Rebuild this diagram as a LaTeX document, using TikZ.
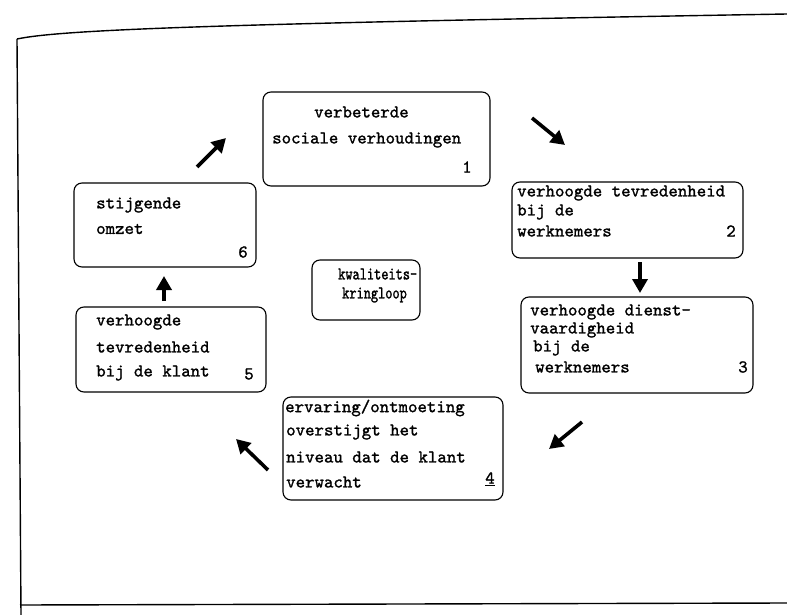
\documentclass[tikz,border=0pt]{standalone}
\usetikzlibrary{arrows.meta}
\font\twfont="[lmmono10-regular]:embolden=1.3" at 18pt
\font\twcfont="[lmmono10-regular]:embolden=1.3;extend=0.76" at 18pt
\begin{document}
\begin{tikzpicture}[x=1pt,y=-1pt,
  box/.style={draw, rounded corners=8pt, line width=1.1pt, inner sep=0pt},
  txt/.style={anchor=west, inner sep=0pt, font=\twfont},
  ctxt/.style={anchor=west, inner sep=0pt, font=\twcfont},
  num/.style={anchor=center, inner sep=0pt, font=\twfont},
  flow/.style={line width=3.6pt, -{Triangle[length=14pt,width=15pt]}},
  frameline/.style={line width=1.4pt}]
\useasboundingbox (0,0) rectangle (787,615);
% frame
\coordinate (ftl) at (17,39);
\coordinate (ftr) at (787,14);
\coordinate (fbl) at (21,615);
\coordinate (fbs) at (20,605);
\coordinate (fbr) at (787,603);
\draw[frameline] (ftl) .. controls (60,30) and (200,24) .. (ftr);
\draw[frameline] (ftl) -- (fbl);
\draw[frameline] (fbs) -- (fbr);

% boxes
\node[box, minimum width=227pt, minimum height=94pt] (b1) at (376.5,139) {};
\node[box, minimum width=231pt, minimum height=76pt] (b2) at (627.5,220) {};
\node[box, minimum width=232pt, minimum height=96pt] (b3) at (637,345) {};
\node[box, minimum width=220pt, minimum height=103pt] (b4) at (393,448.5) {};
\node[box, minimum width=190pt, minimum height=85pt] (b5) at (171,349.5) {};
\node[box, minimum width=182pt, minimum height=84pt] (b6) at (165,225) {};
\node[box, minimum width=108pt, minimum height=60pt] (bc) at (366,290) {};

% texts box 1
\node[txt] (t1a) at (314,112) {verbeterde};
\node[txt] (t1b) at (272,140) {sociale verhoudingen};
\node[num] (n1) at (467,167) {1};
% box 2
\node[txt] (t2a) at (517,193) {verhoogde tevredenheid};
\node[txt] (t2b) at (517,212) {bij de};
\node[txt] (t2c) at (517,231) {werknemers};
\node[num] (n2) at (731,231) {2};
% box 3
\node[txt] (t3a) at (530,312) {verhoogde dienst-};
\node[txt] (t3b) at (530,330) {vaardigheid};
\node[txt] (t3c) at (533,348) {bij de};
\node[txt] (t3d) at (535,367) {werknemers};
\node[num] (n3) at (743,367) {3};
% box 4
\node[txt] (t4a) at (285,408) {ervaring/ontmoeting};
\node[txt] (t4b) at (286,432) {overstijgt het};
\node[txt] (t4c) at (286,457) {niveau dat de klant};
\node[txt] (t4d) at (286,482) {verwacht};
\node[num] (n4) at (490,479) {\underline{4}};
% box 5
\node[txt] (t5a) at (96,322) {verhoogde};
\node[txt] (t5b) at (96,347) {tevredenheid};
\node[txt] (t5c) at (96,373) {bij de klant};
\node[num] (n5) at (249,374) {5};
% box 6
\node[txt] (t6a) at (96,205) {stijgende};
\node[txt] (t6b) at (96,229) {omzet};
\node[num] (n6) at (243,252) {6};
% centre
\node[ctxt] (tca) at (338,274) {kwaliteits-};
\node[ctxt] (tcb) at (342,295) {kringloop};

% arrows
\coordinate (a61s) at (197,167); \coordinate (a61e) at (226,138);
\coordinate (a12s) at (532,118); \coordinate (a12e) at (565,145);
\coordinate (a23s) at (640,262); \coordinate (a23e) at (640,293);
\coordinate (a34s) at (582,422); \coordinate (a34e) at (549,449);
\coordinate (a45s) at (268,470); \coordinate (a45e) at (236,439);
\coordinate (a56s) at (164,301); \coordinate (a56e) at (164,276);
\draw[flow] (a61s) -- (a61e);
\draw[flow] (a12s) -- (a12e);
\draw[flow] (a23s) -- (a23e);
\draw[flow] (a34s) -- (a34e);
\draw[flow] (a45s) -- (a45e);
\draw[flow] (a56s) -- (a56e);
\end{tikzpicture}
\end{document}
